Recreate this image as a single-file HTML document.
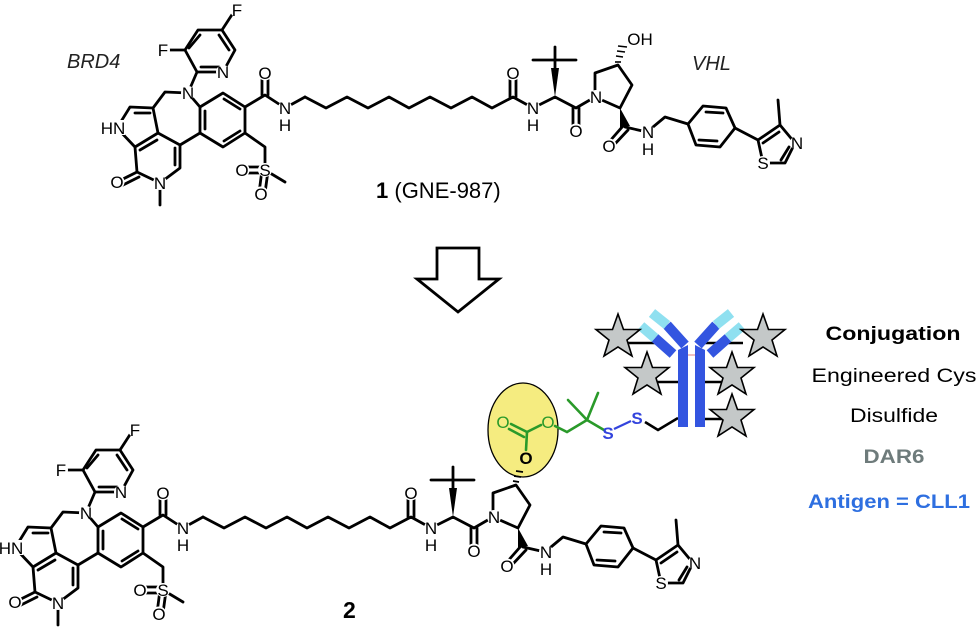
<!DOCTYPE html>
<html><head><meta charset="utf-8"><style>
html,body{margin:0;padding:0;background:#fff}
svg{display:block}
text{font-family:"Liberation Sans",Arial,sans-serif}
.b{stroke:#000;stroke-width:2.8;fill:none;stroke-linecap:round;stroke-linejoin:round}
.a{font-size:17px;fill:#000;text-anchor:middle}
.w{fill:#fff}
</style></head><body>
<svg width="980" height="631" viewBox="0 0 980 631" xmlns="http://www.w3.org/2000/svg">
<defs>
<g id="mol">
<g class="b">
<polyline points="197,72 185,50 198,30 222,30 235,50 223,72 197,72"/>
<line x1="189" y1="48" x2="200" y2="35"/><line x1="229" y1="50" x2="219" y2="35"/><line x1="201" y1="67" x2="219" y2="67"/>
<line x1="185" y1="50" x2="163" y2="50"/><line x1="222" y1="30" x2="235" y2="10"/>
<line x1="188" y1="93" x2="197" y2="72"/>
<polyline points="188,93 165,92 153,108"/>
<polyline points="153,108 130,107 117,128 135,147 158,133 153,108"/>
<line x1="135" y1="113" x2="150" y2="113"/>
<polyline points="135,147 137,172 160,183 180,168 180,145 158,133"/>
<line x1="140" y1="150" x2="157" y2="140"/><line x1="175" y1="165" x2="175" y2="148"/>
<line x1="137" y1="172" x2="117" y2="182"/><line x1="139" y1="177" x2="121" y2="186"/>
<line x1="160" y1="183" x2="160" y2="205"/>
<line x1="180" y1="145" x2="200" y2="133"/>
<polygon points="200,107 223,93 245,107 245,133 223,147 200,133"/>
<line x1="205" y1="111" x2="205" y2="129"/><line x1="224" y1="99" x2="240" y2="109"/><line x1="224" y1="141" x2="240" y2="131"/>
<line x1="188" y1="93" x2="200" y2="107"/>
<polyline points="245,107 265,95 285,108 305,97"/>
<line x1="262" y1="95" x2="262" y2="73"/><line x1="268" y1="95" x2="268" y2="73"/>
<polyline points="245,133 265,147 265,170"/>
<line x1="265" y1="167" x2="243" y2="167"/><line x1="265" y1="173" x2="243" y2="173"/>
<line x1="262" y1="170" x2="259" y2="193"/><line x1="268" y1="171" x2="265" y2="193"/>
<line x1="265" y1="170" x2="285" y2="182"/>
<polyline points="305,97 326,108 347,97 368,108 389,97 409,108 430,97 451,108 472,97 492,108 513,97 533,108 555,97 576,108 595,97"/>
<line x1="510" y1="97" x2="510" y2="73"/><line x1="516" y1="97" x2="516" y2="73"/>
<line x1="573" y1="108" x2="573" y2="130"/><line x1="579" y1="108" x2="579" y2="130"/>
<line x1="533" y1="60" x2="576" y2="60"/><line x1="555" y1="68" x2="555" y2="47"/>
<polyline points="595,97 595,73 618,65 632,85 620,108 595,97"/>
<polyline points="625,127 647,132 665,117 688,124"/>
<line x1="623" y1="126" x2="609" y2="142"/><line x1="628" y1="130" x2="613" y2="146"/>
<polygon points="688,124 703,106 726,108 735,128 720,147 696,145"/>
<line x1="706" y1="112" x2="723" y2="113"/><line x1="699" y1="140" x2="717" y2="141"/>
<polyline points="735,128 758,140 780,125 795,143 785,163 763,163 758,140"/>
<line x1="763" y1="143" x2="779" y2="132"/><line x1="789" y1="147" x2="781" y2="160"/>
<line x1="780" y1="125" x2="778" y2="100"/>
</g>
<polygon points="555,97 551,68 559,68" fill="#000"/>
<polygon points="620,108 620,128 630,126" fill="#000"/>
<g class="w">
<circle cx="223" cy="72" r="7"/><circle cx="163" cy="50" r="7"/><circle cx="237" cy="10" r="7"/>
<circle cx="188" cy="93" r="7"/><rect x="100" y="120" width="25" height="15"/>
<circle cx="117" cy="182" r="7.5"/><circle cx="160" cy="183" r="7"/>
<circle cx="265" cy="73" r="7.5"/><circle cx="285" cy="108" r="7"/>
<circle cx="265" cy="170" r="7"/><circle cx="242" cy="170" r="7.5"/><circle cx="261" cy="194" r="7.5"/>
<circle cx="513" cy="73" r="7.5"/><circle cx="533" cy="108" r="7"/>
<circle cx="576" cy="131" r="7.5"/><circle cx="596" cy="97" r="7"/>
<circle cx="609" cy="146" r="7.5"/><circle cx="648" cy="132" r="7"/>
<circle cx="797" cy="143" r="7"/><circle cx="763" cy="163" r="7"/>
</g>
<g class="a">
<text x="223" y="78">N</text><text x="163" y="56">F</text><text x="237" y="16">F</text>
<text x="188" y="99">N</text><text x="113" y="134">HN</text>
<text x="117" y="188">O</text><text x="160" y="189">N</text>
<text x="265" y="79">O</text><text x="285" y="114">N</text><text x="285" y="131">H</text>
<text x="265" y="176">S</text><text x="242" y="176">O</text><text x="261" y="200">O</text>
<text x="513" y="79">O</text><text x="533" y="114">N</text><text x="533" y="131">H</text>
<text x="576" y="137">O</text><text x="596" y="103">N</text>
<text x="609" y="152">O</text><text x="648" y="138">N</text><text x="648" y="155">H</text>
<text x="797" y="149">N</text><text x="763" y="169">S</text>
</g>
</g>
<polygon id="st" points="0,-23 5.5,-7.5 22,-7.5 9,3 14,19 0,10 -14,19 -9,3 -22,-7.5 -5.5,-7.5"/>
</defs>

<use href="#mol"/>
<g stroke="#000" stroke-width="1.6">
<line x1="621" y1="62" x2="615" y2="62"/><line x1="623" y1="57" x2="616" y2="56"/>
<line x1="625" y1="52" x2="617" y2="51"/><line x1="627" y1="47" x2="618" y2="46"/>
</g>
<text class="a" x="640" y="45">OH</text>
<text x="67" y="68" font-size="20" font-style="italic" fill="#222">BRD4</text>
<text x="692" y="70" font-size="20" font-style="italic" fill="#222">VHL</text>
<text x="376" y="198" font-size="22"><tspan font-weight="bold">1</tspan> (GNE-987)</text>

<polygon points="437,248 479,248 479,279 499,279 458,312 417,279 437,279" fill="#fff" stroke="#000" stroke-width="2.8" stroke-linejoin="miter"/>

<ellipse cx="523" cy="430" rx="35" ry="47" fill="#f5ec80" stroke="#000" stroke-width="1.3"/>
<use href="#mol" transform="translate(-102,420)"/>
<g stroke="#000" stroke-width="1.8">
<line x1="513" y1="481" x2="519" y2="482"/><line x1="514" y1="476" x2="521" y2="477"/><line x1="516" y1="471" x2="523" y2="472"/>
</g>
<g stroke="#2a9a2a" stroke-width="2.6" fill="none" stroke-linecap="round">
<line x1="526" y1="450" x2="527" y2="432"/>
<line x1="527" y1="432" x2="511" y2="424"/><line x1="524" y1="437" x2="509" y2="429"/>
<polyline points="527,432 541,425"/><polyline points="555,426 567,432 587,420 604,430"/>
<line x1="587" y1="420" x2="568" y2="400"/><line x1="587" y1="420" x2="598" y2="393"/>
</g>
<text x="526" y="464" font-size="17" font-weight="bold" text-anchor="middle">O</text>
<g font-size="17" text-anchor="middle" fill="#2a9a2a">
<text x="503" y="428">O</text><text x="548" y="428">O</text>
</g>
<g stroke="#3344dd" stroke-width="2.2" fill="none"><line x1="614" y1="429" x2="631" y2="421"/></g>
<polyline points="645,422 658,430 678,418" stroke="#000" stroke-width="2.6" fill="none"/>
<g font-size="17" font-weight="bold" fill="#3344dd" text-anchor="middle"><text x="608" y="439">S</text><text x="637" y="424">S</text></g>

<text x="343" y="618" font-size="23" font-weight="bold">2</text>

<g stroke="#000" stroke-width="2.6">
<line x1="628" y1="343" x2="660" y2="343"/><line x1="657" y1="382" x2="680" y2="382"/>
<line x1="703" y1="343" x2="743" y2="343"/><line x1="705" y1="382" x2="723" y2="382"/><line x1="705" y1="419" x2="723" y2="419"/>
</g>
<g fill="#3355e0">
<polygon points="678,350 688,345 688,427 678,427"/>
<polygon points="695,345 705,350 705,427 695,427"/>
</g>
<g stroke-width="10" stroke-linecap="butt">
<line x1="685" y1="345" x2="667" y2="325" stroke="#3355e0"/><line x1="667" y1="325" x2="652" y2="313" stroke="#8fe0f0"/>
<line x1="673" y1="354" x2="655" y2="338" stroke="#3355e0"/><line x1="655" y1="338" x2="641" y2="326" stroke="#8fe0f0"/>
<line x1="698" y1="345" x2="716" y2="325" stroke="#3355e0"/><line x1="716" y1="325" x2="731" y2="313" stroke="#8fe0f0"/>
<line x1="710" y1="354" x2="728" y2="338" stroke="#3355e0"/><line x1="728" y1="338" x2="742" y2="326" stroke="#8fe0f0"/>
</g>
<line x1="688" y1="355" x2="695" y2="355" stroke="#e08080" stroke-width="1"/>
<g fill="#c4c8c8" stroke="#000" stroke-width="1.6" stroke-linejoin="miter">
<use href="#st" transform="translate(618,337)"/>
<use href="#st" transform="translate(647,375)"/>
<use href="#st" transform="translate(763,337)"/>
<use href="#st" transform="translate(732,375)"/>
<use href="#st" transform="translate(732,417)"/>
</g>

<g text-anchor="middle" font-size="19">
<text x="893" y="340" font-weight="bold" textLength="135" lengthAdjust="spacingAndGlyphs">Conjugation</text>
<text x="894" y="382" textLength="165" lengthAdjust="spacingAndGlyphs">Engineered Cys</text>
<text x="894" y="422" textLength="88" lengthAdjust="spacingAndGlyphs">Disulfide</text>
<text x="894" y="463" font-weight="bold" fill="#6e7b7b" textLength="61" lengthAdjust="spacingAndGlyphs">DAR6</text>
<text x="889" y="508" font-weight="bold" fill="#2e6fe0" textLength="162" lengthAdjust="spacingAndGlyphs">Antigen = CLL1</text>
</g>
</svg>
</body></html>
